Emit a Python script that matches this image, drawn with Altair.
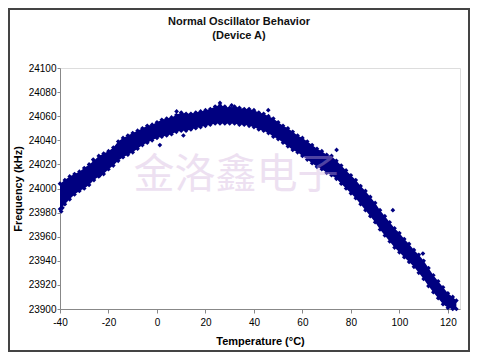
import altair as alt
import pandas as pd

temps = [-40, -38, -36, -34, -32, -30, -28, -26, -24, -22, -20, -18, -16, -14, -12, -10,
         -8, -6, -4, -2, 0, 2, 4, 6, 8, 10, 12, 14, 16, 18, 20, 22, 24, 26, 28, 30,
         32, 34, 36, 38, 40, 42, 44, 46, 48, 50, 52, 54, 56, 58, 60, 62, 64, 66, 68,
         70, 72, 74, 76, 78, 80, 82, 84, 86, 88, 90, 92, 94, 96, 98, 100, 102, 104,
         106, 108, 110, 112, 114, 116, 118, 120, 122, 123.5]
freq_low = [23983, 23987, 23991, 23995, 23998, 24000, 24003, 24007, 24010, 24012, 24016,
            24019, 24023, 24026, 24028, 24030, 24033, 24036, 24038, 24040, 24042, 24043,
            24044, 24045, 24047, 24048, 24048, 24049, 24050, 24051, 24052, 24053, 24054,
            24054, 24054, 24054, 24054, 24053, 24053, 24052, 24051, 24049, 24048, 24046,
            24043, 24041, 24038, 24035, 24032, 24030, 24027, 24024, 24021, 24018, 24016,
            24013, 24011, 24008, 24004, 24000, 23996, 23992, 23987, 23982, 23977, 23972,
            23966, 23961, 23956, 23951, 23947, 23943, 23939, 23935, 23930, 23925, 23919,
            23914, 23909, 23904, 23901, 23900, 23900]
freq_high = [24004, 24007, 24010, 24012, 24014, 24017, 24020, 24023, 24027, 24029, 24031,
             24034, 24039, 24042, 24044, 24046, 24048, 24050, 24052, 24053, 24055, 24057,
             24058, 24059, 24061, 24063, 24062, 24062, 24063, 24064, 24065, 24066, 24068,
             24069, 24068, 24067, 24068, 24067, 24066, 24066, 24065, 24063, 24062, 24060,
             24058, 24055, 24052, 24050, 24047, 24044, 24042, 24039, 24036, 24033, 24031,
             24028, 24027, 24023, 24019, 24015, 24011, 24007, 24002, 23998, 23993, 23988,
             23982, 23977, 23972, 23967, 23963, 23958, 23954, 23949, 23945, 23940, 23934,
             23928, 23923, 23918, 23913, 23910, 23907]

# Stray points sticking out of the band
out_t = [-39.5, -39, -26.3, -23.5, 1.2, 8.1, 10.9, 26, 30.8, 45.9, 74.1, 97.3, 109.7]
out_f = [23981, 23984, 24024, 24011, 24036, 24064, 24044, 24071, 24069, 24065, 24032, 23982, 23946]

x_ticks = [-40, -20, 0, 20, 40, 60, 80, 100, 120]
y_ticks = [23900, 23920, 23940, 23960, 23980, 24000, 24020, 24040, 24060, 24080, 24100]

title_lines = ["Normal Oscillator Behavior", "(Device A)"]
x_title = "Temperature (°C)"
y_title = "Frequency (kHz)"
watermark = "金洛鑫电子"

NAVY = "#000080"

band = pd.DataFrame({"t": temps, "lo": freq_low, "hi": freq_high})
edge = pd.DataFrame({"t": temps + temps + out_t, "f": freq_low + freq_high + out_f})

xs = alt.Scale(domain=[-40, 125], nice=False, zero=False)
ys = alt.Scale(domain=[23900, 24100], nice=False, zero=False)

label_expr = "datum.value < 0 ? '-' + abs(datum.value) : '' + datum.value"

x_axis = alt.Axis(values=x_ticks, title=x_title, grid=False, tickSize=4, labelPadding=4,
                  titlePadding=8, labelFlush=False, labelOverlap=False, labelExpr=label_expr)
y_axis = alt.Axis(values=y_ticks, title=y_title, grid=False, tickSize=3, labelPadding=1,
                  titleX=-37, labelFlush=False, labelOverlap=False, labelExpr=label_expr)

area = alt.Chart(band).mark_area(color=NAVY, opacity=1).encode(
    x=alt.X("t:Q", scale=xs, axis=x_axis),
    y=alt.Y("lo:Q", scale=ys, axis=y_axis),
    y2="hi:Q",
)

pts = alt.Chart(edge).mark_point(shape="diamond", filled=True, color=NAVY, size=22, opacity=1).encode(
    x=alt.X("t:Q", scale=xs, axis=x_axis),
    y=alt.Y("f:Q", scale=ys, axis=y_axis),
)

wm = alt.Chart(pd.DataFrame({"w": [watermark]})).mark_text(
    font="Noto Sans CJK SC", fontSize=41, color="#d0b0dc", opacity=0.38,
    align="center", baseline="middle"
).encode(text="w:N", x=alt.value(176), y=alt.value(108))

ttl = pd.DataFrame({"line": title_lines, "yy": [-46, -32]})
title = alt.Chart(ttl).mark_text(
    font="Liberation Sans", fontSize=11, fontWeight="bold", color="#111111",
    align="center", baseline="middle"
).encode(text="line:N", x=alt.value(179), y=alt.Y("yy:Q", scale=None, axis=None))

border = alt.Chart(pd.DataFrame({"a": [0]})).mark_rect(
    fill=None, fillOpacity=0, stroke="#444444", strokeWidth=2
).encode(x=alt.value(-51), x2=alt.value(409), y=alt.value(-59), y2=alt.value(283))

chart = alt.layer(area, pts, wm, title, border).resolve_axis(y="shared").properties(
    width=400, height=241,
    autosize=alt.AutoSizeParams(type="none"),
    padding={"left": 52, "top": 60, "right": 10, "bottom": 43},
).configure_view(
    fill="#c0c0c0", stroke="#a0a0a0", strokeWidth=1
).configure_axis(
    labelFont="Liberation Sans", labelFontSize=8, labelColor="#222222",
    titleFont="Liberation Sans", titleFontSize=9, titleFontWeight="bold", titleColor="#111111",
    domainColor="#333333", tickColor="#333333", domainWidth=1, labelOverlap=False
).configure(background="white")

chart.save("out.html", embed_options={"renderer": "svg", "actions": False})
